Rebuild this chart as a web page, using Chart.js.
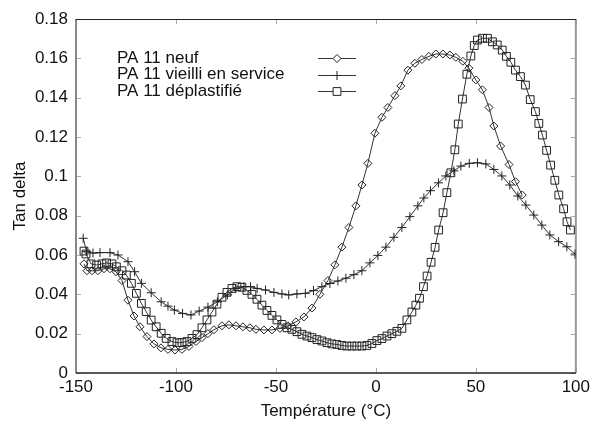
<!DOCTYPE html>
<html>
<head>
<meta charset="utf-8">
<script src="https://cdn.jsdelivr.net/npm/chart.js@4/dist/chart.umd.min.js"></script>
<style>
  html, body { margin: 0; padding: 0; background: #fff; }
  #wrap { width: 594px; height: 426px; }
</style>
</head>
<body>
<div id="wrap"><canvas id="dma" width="594" height="426"></canvas></div>
<script>
"use strict";

// series labels
var seriesNames = ["PA 11 neuf", "PA 11 vieilli en service", "PA 11 déplastifié"];

// PA 11 neuf (diamonds)
var neufT = [
  -146, -144.5, -142, -139, -136, -133, -130, -127, -124, -121,
  -118, -114.5, -111, -107.5, -104, -100.5, -97, -93.5, -90, -87,
  -84, -81, -77, -73.5, -70, -66.5, -63, -60, -56, -52,
  -48, -44, -40, -36, -32, -28, -24, -20.5, -17, -13.5,
  -10, -7, -4, -0.5, 3, 6, 9.5, 12.5, 16, 19.5,
  23, 26.5, 30, 33.5, 37, 40, 43.5, 46.5, 50, 53.3,
  56.6, 59, 62.4, 66.6, 69.8, 73.2
];
var neufTan = [
  0.0555, 0.052, 0.052, 0.052, 0.053, 0.053, 0.0515, 0.047, 0.037, 0.029,
  0.0235, 0.0185, 0.0148, 0.0128, 0.012, 0.0117, 0.012, 0.0135, 0.016, 0.018,
  0.020, 0.022, 0.024, 0.0245, 0.024, 0.0235, 0.023, 0.0222, 0.0219, 0.0219,
  0.0227, 0.024, 0.026, 0.0285, 0.033, 0.040, 0.047, 0.055, 0.064, 0.074,
  0.085, 0.0956, 0.1066, 0.1219, 0.130, 0.135, 0.141, 0.146, 0.154, 0.1575,
  0.1594, 0.161, 0.1622, 0.1622, 0.1617, 0.1605, 0.1585, 0.155, 0.149, 0.144,
  0.135, 0.1256, 0.1154, 0.106, 0.0973, 0.0905
];

// PA 11 vieilli en service (crosses)
var vieilliT = [
  -146.4, -144.7, -141.5, -138, -133, -129, -124, -120.7, -117.3, -112.4,
  -107.4, -104, -100.8, -96.7, -92.5, -88.4, -84, -79.3, -74.3, -70.1,
  -66, -62.7, -59.4, -55.2, -51, -47, -43.6, -39.5, -35.3, -31.2,
  -27, -23, -19, -15, -11, -7, -3, 1, 5, 9,
  13, 17, 21, 24, 27.3, 31.3, 35, 39, 42.5, 46.7,
  50.8, 55, 59, 63, 67, 71, 75, 79, 83, 87,
  91.4, 95.5, 99.6
];
var vieilliTan = [
  0.0685, 0.0617, 0.061, 0.0612, 0.0612, 0.060, 0.0566, 0.0515, 0.0456, 0.0408,
  0.0362, 0.034, 0.032, 0.0303, 0.0295, 0.0315, 0.0335, 0.0362, 0.0397, 0.043,
  0.0439, 0.0439, 0.043, 0.0422, 0.041, 0.0402, 0.0397, 0.0402, 0.0405, 0.0419,
  0.0439, 0.0455, 0.0468, 0.0482, 0.050, 0.052, 0.056, 0.0598, 0.064, 0.069,
  0.074, 0.0795, 0.085, 0.089, 0.0927, 0.0967, 0.1002, 0.1028, 0.1052, 0.1066,
  0.1069, 0.1063, 0.1035, 0.1002, 0.0956, 0.090, 0.0854, 0.0803, 0.0752, 0.0702,
  0.0668, 0.0642, 0.0605
];

// PA 11 déplastifié (squares)
var deplT = [
  -146, -145, -142.5, -139.7, -137, -134.7, -132, -129.8, -127, -124.8,
  -122.3, -119.8, -117.3, -114.9, -112.4, -109.9, -107.4, -104.9, -102, -99.5,
  -97, -94.5, -92, -89.5, -87, -84.5, -82, -79.5, -77, -74.5,
  -72, -69.5, -67, -64.5, -62, -59.5, -57, -54.5, -52, -49.5,
  -47, -44.5, -42, -39.5, -37, -34.5, -32, -29.5, -27, -24.5,
  -22, -19.5, -17, -14.5, -12, -9.5, -7, -4.5, -2, 0.5,
  3, 5.5, 8, 10.5, 13, 15.5, 18, 20, 21.8, 23.8,
  25.6, 27.6, 29.6, 31.4, 33.6, 35.5, 37.5, 39.5, 41.2, 43.3,
  45.5, 47.5, 49.2, 50.8, 53.3, 55.8, 58.3, 60.7, 63.2, 65.3,
  67.5, 69.8, 72.3, 74.8, 77.2, 79.8, 81.5, 83.3, 85.4, 87.4,
  89.5, 91.5, 93.9, 95.6, 97.3
];
var deplTan = [
  0.062, 0.0605, 0.0555, 0.0549, 0.0555, 0.056, 0.0555, 0.054, 0.052, 0.0498,
  0.0456, 0.0405, 0.0354, 0.0312, 0.0269, 0.0235, 0.0202, 0.0176, 0.016, 0.0154,
  0.0155, 0.016, 0.0176, 0.0195, 0.023, 0.027, 0.031, 0.035, 0.0385, 0.041,
  0.043, 0.0439, 0.0436, 0.042, 0.040, 0.0375, 0.0345, 0.0318, 0.0293, 0.027,
  0.0247, 0.023, 0.0222, 0.021, 0.0197, 0.0188, 0.018, 0.017, 0.0163, 0.0154,
  0.0148, 0.0145, 0.014, 0.0137, 0.0137, 0.0137, 0.0137, 0.014, 0.015, 0.0165,
  0.0175, 0.0188, 0.02, 0.0212, 0.0227, 0.027, 0.031, 0.0345, 0.038, 0.0439,
  0.0493, 0.0563, 0.0639, 0.0727, 0.0815, 0.0917, 0.1018, 0.1135, 0.1266, 0.1393,
  0.1519, 0.1612, 0.1665, 0.1693, 0.1702, 0.1702, 0.1684, 0.1668, 0.1642, 0.161,
  0.158, 0.154, 0.1507, 0.1464, 0.139, 0.1329, 0.1269, 0.121, 0.1132, 0.1057,
  0.098, 0.0905, 0.0835, 0.0769, 0.0727
];

var FONT = "'Liberation Sans', Arial, sans-serif";

function toPoints(xs, ys) {
  var pts = [];
  for (var i = 0; i < xs.length; i++) pts.push({ x: xs[i], y: ys[i] });
  return pts;
}

function makeSet(label, xs, ys, style, radius) {
  return {
    label: label,
    data: toPoints(xs, ys),
    showLine: true,
    tension: 0,
    borderColor: "#333",
    borderWidth: 1,
    pointStyle: style,
    pointRadius: radius,
    pointBorderColor: "#222",
    pointBorderWidth: 1,
    pointBackgroundColor: "rgba(0,0,0,0)",
  };
}

// box round the plot with inward ticks (gnuplot look)
var framePlugin = {
  id: "frame",
  beforeDatasetsDraw(chart) {
    var ctx = chart.ctx;
    var a = chart.chartArea;
    var xs = chart.scales.x, ys = chart.scales.y;
    ctx.save();
    ctx.strokeStyle = "#aaa";
    ctx.lineWidth = 1;
    xs.ticks.forEach(function (t) {
      var px = Math.round(xs.getPixelForValue(t.value)) + 0.5;
      ctx.beginPath();
      ctx.moveTo(px, a.bottom); ctx.lineTo(px, a.bottom - 5);
      ctx.moveTo(px, a.top); ctx.lineTo(px, a.top + 5);
      ctx.stroke();
    });
    ys.ticks.forEach(function (t) {
      var py = Math.round(ys.getPixelForValue(t.value)) + 0.5;
      ctx.beginPath();
      ctx.moveTo(a.left, py); ctx.lineTo(a.left + 5, py);
      ctx.moveTo(a.right, py); ctx.lineTo(a.right - 5, py);
      ctx.stroke();
    });
    // borders
    ctx.lineWidth = 2;
    ctx.strokeStyle = "#888";
    ctx.beginPath(); ctx.moveTo(a.left, a.top); ctx.lineTo(a.left, a.bottom); ctx.stroke();
    ctx.strokeStyle = "#999";
    ctx.beginPath(); ctx.moveTo(a.right, a.top); ctx.lineTo(a.right, a.bottom); ctx.stroke();
    ctx.lineWidth = 1.5;
    ctx.strokeStyle = "#222";
    ctx.beginPath(); ctx.moveTo(a.left, a.bottom); ctx.lineTo(a.right, a.bottom); ctx.stroke();
    ctx.lineWidth = 1;
    ctx.beginPath(); ctx.moveTo(a.left, a.top + 0.5); ctx.lineTo(a.right, a.top + 0.5); ctx.stroke();
    ctx.restore();
  },
};

// legend: text at left, line sample + marker at right
var keyPlugin = {
  id: "key",
  afterDraw(chart) {
    var ctx = chart.ctx;
    var textX = 117, lineX0 = 318, lineX1 = 356, rowY = 58, rowH = 16.5;
    ctx.save();
    chart.data.datasets.forEach(function (ds, i) {
      var y = rowY + i * rowH;
      ctx.fillStyle = "#111";
      ctx.font = "17px " + FONT;
      ctx.textAlign = "left";
      ctx.textBaseline = "middle";
      ctx.fillText(ds.label, textX, y);
      ctx.strokeStyle = ds.borderColor;
      ctx.lineWidth = 1;
      ctx.beginPath();
      ctx.moveTo(lineX0, Math.round(y) + 0.5);
      ctx.lineTo(lineX1, Math.round(y) + 0.5);
      ctx.stroke();
      ctx.strokeStyle = ds.pointBorderColor;
      ctx.fillStyle = "#fff";
      Chart.helpers.drawPoint(ctx, {
        pointStyle: ds.pointStyle,
        radius: ds.pointRadius,
        borderWidth: 1,
        rotation: 0,
      }, (lineX0 + lineX1) / 2, Math.round(y) + 0.5);
    });
    ctx.restore();
  },
};

var ctx = document.getElementById("dma").getContext("2d");

new Chart(ctx, {
  type: "scatter",
  data: {
    datasets: [
      makeSet(seriesNames[0], neufT, neufTan, "rectRot", 4),
      makeSet(seriesNames[1], vieilliT, vieilliTan, "cross", 4.5),
      makeSet(seriesNames[2], deplT, deplTan, "rect", 5.5),
    ],
  },
  options: {
    responsive: false,
    animation: false,
    events: [],
    layout: { padding: { left: 6, right: 15, top: 19, bottom: 0 } },
    plugins: {
      legend: { display: false },
      tooltip: { enabled: false },
    },
    scales: {
      x: {
        type: "linear",
        min: -150,
        max: 100,
        grid: { display: false, drawTicks: false },
        border: { display: false },
        ticks: {
          stepSize: 50,
          padding: 4,
          color: "#111",
          font: { family: FONT, size: 17 },
        },
        title: {
          display: true,
          text: "Température (°C)",
          color: "#111",
          font: { family: FONT, size: 17 },
          padding: { top: 4, bottom: 4 },
        },
        afterFit: function (s) { s.height = 53; },
      },
      y: {
        min: 0,
        max: 0.18,
        grid: { display: false, drawTicks: false },
        border: { display: false },
        ticks: {
          stepSize: 0.02,
          padding: 8,
          color: "#111",
          font: { family: FONT, size: 17 },
          callback: function (v) { return String(+v.toFixed(2)); },
        },
        title: {
          display: true,
          text: "Tan delta",
          color: "#111",
          font: { family: FONT, size: 17 },
          padding: { top: 4, bottom: 4 },
        },
        afterFit: function (s) { s.width = 70; },
      },
    },
  },
  plugins: [framePlugin, keyPlugin],
});
</script>
</body>
</html>
